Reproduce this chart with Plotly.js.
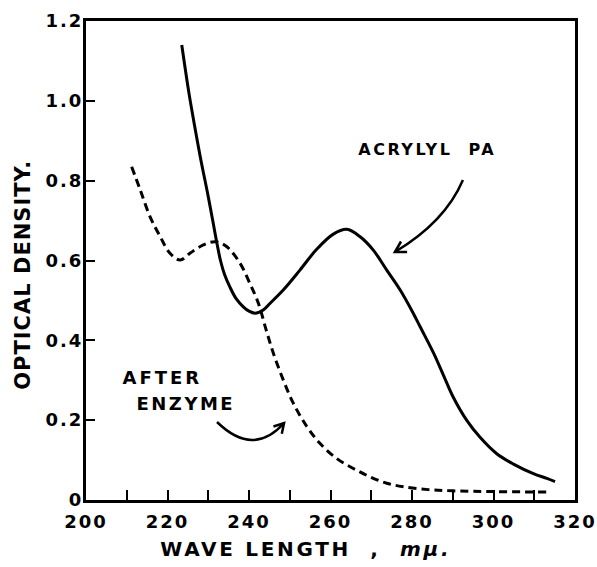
<!DOCTYPE html>
<html>
<head>
<meta charset="utf-8">
<script src="https://cdn.plot.ly/plotly-3.0.1.min.js"></script>
<style>
html,body{margin:0;padding:0;background:#fff;}
#chart{width:597px;height:567px;}
#chart .xtick text, #chart .ytick text{letter-spacing:2px;}
#chart g.annotation[data-index="0"] text{letter-spacing:2.7px;}
#chart g.annotation[data-index="1"] text{letter-spacing:1px;}
#chart g.annotation[data-index="2"] text{letter-spacing:2.5px;}
#chart g.annotation[data-index="3"] text{letter-spacing:3px;}
#chart g.annotation[data-index="4"] text{letter-spacing:2.5px;}
</style>
</head>
<body>
<div id="chart"></div>
<script>
// Acrylyl PA (solid curve)
const acrylylWave = [223.5, 225.1, 226.0, 228.0, 230.0, 231.1, 232.0, 233.0, 234.0, 235.3, 236.8, 238.6, 240.0, 241.5, 243.5, 245.2, 248.4, 252.5, 256.6, 260.7, 264.0, 267.2, 270.5, 273.8, 277.1, 280.3, 282.0, 285.3, 287.7, 290.1, 293.4, 296.7, 300.8, 304.9, 309.8, 313.1, 315.1];
const acrylylOD   = [1.140, 1.030, 0.975, 0.862, 0.760, 0.700, 0.650, 0.600, 0.565, 0.534, 0.505, 0.484, 0.473, 0.468, 0.476, 0.493, 0.526, 0.576, 0.628, 0.666, 0.678, 0.660, 0.626, 0.576, 0.526, 0.468, 0.434, 0.368, 0.313, 0.258, 0.200, 0.157, 0.116, 0.090, 0.066, 0.054, 0.046];

// After enzyme (dashed curve)
const enzymeWave = [211.2, 213.3, 215.7, 218.2, 220.6, 223.1, 225.5, 228.8, 231.7, 234.5, 237.8, 240.2, 242.3, 244.1, 246.0, 248.4, 250.9, 254.2, 257.4, 261.5, 265.6, 269.7, 273.8, 278.0, 284.0, 290.0, 300.0, 313.8];
const enzymeOD   = [0.835, 0.777, 0.710, 0.660, 0.618, 0.601, 0.618, 0.639, 0.647, 0.635, 0.593, 0.543, 0.493, 0.430, 0.367, 0.301, 0.242, 0.184, 0.142, 0.104, 0.079, 0.058, 0.042, 0.033, 0.026, 0.023, 0.021, 0.020];

// Tick labels
const yTickVals = [0, 0.2, 0.4, 0.6, 0.8, 1.0, 1.2];
const yTickText = ["0", "0.2", "0.4", "0.6", "0.8", "1.0", "1.2"];
const xTickVals = [200, 220, 240, 260, 280, 300, 320];
const xTickText = ["200", "220", "240", "260", "280", "300", "320"];

const FONT = "DejaVu Sans, Liberation Sans, sans-serif";

const traces = [
  {x: acrylylWave, y: acrylylOD, type: "scatter", mode: "lines", name: "ACRYLYL PA",
   line: {color: "#000", width: 3, shape: "spline", smoothing: 1}},
  {x: enzymeWave, y: enzymeOD, type: "scatter", mode: "lines", name: "AFTER ENZYME",
   line: {color: "#000", width: 3, dash: "8px,5px", shape: "spline", smoothing: 1}}
];

const layout = {
  width: 597, height: 567,
  margin: {l: 86, r: 22, t: 21, b: 67},
  paper_bgcolor: "#fff", plot_bgcolor: "#fff",
  showlegend: false,
  font: {family: FONT, color: "#000"},
  xaxis: {
    range: [200, 320], showgrid: false, zeroline: false,
    showline: true, linecolor: "#000", linewidth: 3, mirror: true,
    ticks: "inside", ticklen: 10, tickwidth: 2, tickcolor: "#000",
    tickvals: xTickVals, ticktext: xTickText,
    tickfont: {family: FONT, size: 18, weight: "bold", color: "#000"},
    ticklabelstandoff: 3,
    minor: {dtick: 10, tick0: 200, ticks: "inside", ticklen: 10, tickwidth: 2, tickcolor: "#000"}
  },
  yaxis: {
    range: [0, 1.2], showgrid: false, zeroline: false,
    showline: true, linecolor: "#000", linewidth: 3, mirror: true,
    ticks: "inside", ticklen: 9, tickwidth: 2, tickcolor: "#000",
    tickvals: yTickVals, ticktext: yTickText,
    tickfont: {family: FONT, size: 18, weight: "bold", color: "#000"},
    ticklabelstandoff: -4
  },
  annotations: [
    {xref: "paper", yref: "paper", x: 0.45, y: -0.102, xanchor: "center", yanchor: "middle",
     text: "WAVE LENGTH\u00A0 ,\u00A0 <i>mμ.</i>", showarrow: false,
     font: {family: FONT, size: 20, weight: "bold", color: "#000"}},
    {xref: "paper", yref: "paper", x: -0.129, y: 0.47, xanchor: "center", yanchor: "middle",
     text: "OPTICAL DENSITY.", textangle: -90, showarrow: false,
     font: {family: FONT, size: 21, weight: "bold", color: "#000"}},
    {xref: "x", yref: "y", x: 283.7, y: 0.879, xanchor: "center", yanchor: "middle",
     text: "ACRYLYL\u00A0 PA", showarrow: false,
     font: {family: FONT, size: 16, weight: "bold", color: "#000"}},
    {xref: "x", yref: "y", x: 210.3, y: 0.306, xanchor: "left", yanchor: "middle",
     text: "AFTER", showarrow: false,
     font: {family: FONT, size: 18, weight: "bold", color: "#000"}},
    {xref: "x", yref: "y", x: 213.8, y: 0.243, xanchor: "left", yanchor: "middle",
     text: "ENZYME", showarrow: false,
     font: {family: FONT, size: 18, weight: "bold", color: "#000"}}
  ],
  shapes: [
    {type: "path", xref: "x", yref: "y", path: "M 292.5 0.8017 Q 288.1 0.6965 275.8 0.6213",
     line: {color: "#000", width: 2.5}},
    {type: "path", xref: "x", yref: "y", path: "M 278.8 0.6213 L 275.8 0.6213 L 277.3 0.6476",
     line: {color: "#000", width: 2.5}},
    {type: "path", xref: "x", yref: "y", path: "M 232.15 0.1954 Q 241.1 0.1065 248.6 0.1929",
     line: {color: "#000", width: 2.5}},
    {type: "path", xref: "x", yref: "y", path: "M 246.0 0.1841 L 248.6 0.1929 L 248.05 0.1658",
     line: {color: "#000", width: 2.5}}
  ]
};

Plotly.newPlot("chart", traces, layout, {staticPlot: true, displayModeBar: false});
</script>
</body>
</html>
